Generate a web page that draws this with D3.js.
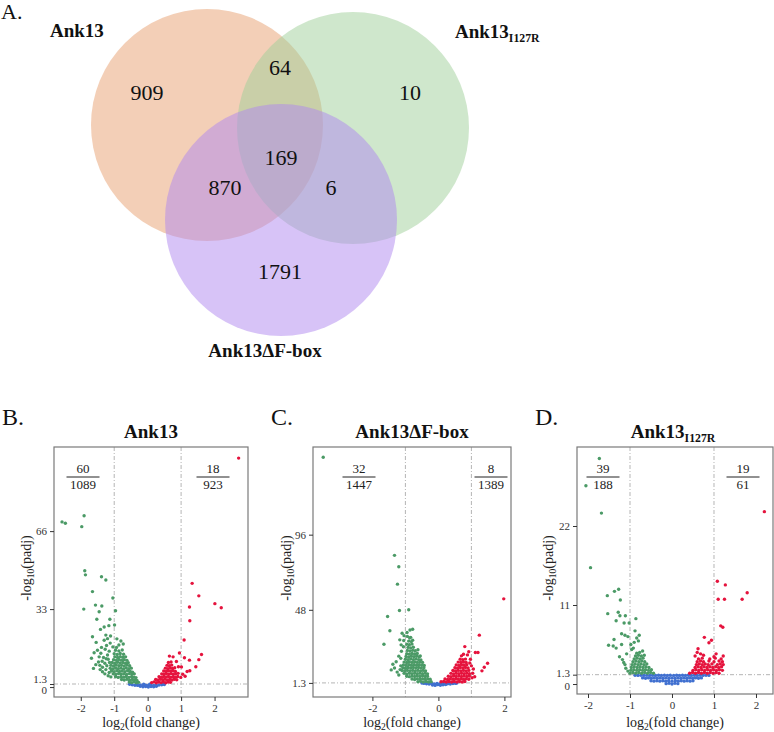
<!DOCTYPE html>
<html><head><meta charset="utf-8">
<script src="https://cdn.jsdelivr.net/npm/d3@7"></script>
<style>body{margin:0;background:#fff}svg{display:block}</style>
</head><body>
<svg id="c" width="774" height="732"></svg>
<script>
// ---------------- DATA ----------------
const vennSetNames = ["Ank13", "Ank13I127R", "Ank13\u0394F-box"];
const vennRegions = ["Ank13 only", "Ank13 & I127R", "I127R only", "all three", "Ank13 & \u0394F-box", "I127R & \u0394F-box", "\u0394F-box only"];
const vennCounts = [909, 64, 10, 169, 870, 6, 1791];

const panelTitles = ["Ank13", "Ank13\u0394F-box", "Ank13"];
const panelTitleSubs = ["", "", "I127R"];
const downCounts = [[60, 1089], [32, 1447], [39, 188]];
const upCounts = [[18, 923], [8, 1389], [19, 61]];

const ank13XTicks = [-2, -1, 0, 1, 2];
const ank13YTicks = [0, 1.3, 33, 66];
const dfboxXTicks = [-2, 0, 2];
const dfboxYTicks = [1.3, 48, 96];
const i127rXTicks = [-2, -1, 0, 1, 2];
const i127rYTicks = [0, 1.3, 11, 22];

// Ank13 volcano: [log2FC, -log10(padj)]
const ank13Down = [
[-2.56,69.9],[-2.46,69.3],[-1.90,72.5],[-1.97,67.9],[-1.88,49.2],[-1.86,47.5],[-1.38,46.7],[-1.25,45.3],[-1.65,40.4],[-1.91,33.0],
[-1.04,37.7],[-1.56,34.7],[-1.37,34.3],[-1.45,31.9],[-0.96,32.3],[-1.52,28.7],[-1.13,28.7],[-1.16,26.0],[-1.30,25.4],[-1.41,24.4],
[-0.99,26.3],[-1.65,21.3],[-1.25,22.0],[-1.11,21.6],[-1.54,18.9],[-1.23,17.6],[-1.68,12.2],[-1.47,10.6],[-1.43,9.2],[-1.35,8.4],
[-1.28,10.1],[-1.22,9.0],[-1.32,12.5],[-1.20,13.6],[-1.27,16.0],[-1.15,15.2],[-1.18,11.8],[-1.40,14.3],[-1.50,15.6],[-1.12,18.6],
[-1.08,7.2],[-1.15,6.2],[-1.25,7.4],[-0.92,20.4],[-0.80,19.5],[-0.86,17.8],[-0.73,18.2],
[-1.60,14.5],[-1.45,12.8],[-1.38,16.8],[-1.30,19.8],[-1.20,20.5],[-1.35,6.5],[-1.28,5.6],[-1.18,4.8],[-1.10,4.3],[-1.42,7.4],
[-1.55,9.5],[-1.62,7.9],[-1.36,10.9],[-1.24,12.0],[-1.14,10.4],
[-0.55,2.1],[-0.48,1.9],[-0.41,2.2],[-0.34,1.8],[-0.27,2.0],
[-0.78,3.2],[-0.70,3.0],[-0.62,3.3],[-0.54,2.9],[-0.46,3.2],[-0.39,3.0],[-0.32,2.8],
[-0.96,4.4],[-0.88,4.1],[-0.80,4.4],[-0.72,4.2],[-0.64,4.5],[-0.56,4.1],[-0.48,4.4],[-0.41,4.2],[-0.35,4.0],
[-1.03,5.6],[-0.95,5.3],[-0.87,5.7],[-0.79,5.4],[-0.71,5.6],[-0.63,5.3],[-0.55,5.7],[-0.47,5.4],[-0.40,5.6],
[-1.08,6.8],[-1.00,6.5],[-0.92,6.9],[-0.84,6.6],[-0.76,6.8],[-0.68,6.5],[-0.60,6.9],[-0.52,6.6],[-0.45,6.3],
[-1.12,8.0],[-1.04,7.7],[-0.96,8.1],[-0.88,7.8],[-0.80,8.0],[-0.72,7.7],[-0.64,8.1],[-0.56,7.8],[-0.49,8.0],
[-1.10,9.2],[-1.02,8.9],[-0.94,9.3],[-0.86,9.0],[-0.78,9.2],[-0.70,8.9],[-0.62,9.3],[-0.54,9.0],
[-1.06,10.4],[-0.98,10.1],[-0.90,10.5],[-0.82,10.2],[-0.74,10.4],[-0.66,10.1],[-0.58,10.3],
[-1.02,11.6],[-0.94,11.3],[-0.86,11.7],[-0.78,11.4],[-0.70,11.6],[-0.62,11.3],
[-0.98,12.8],[-0.90,12.5],[-0.82,12.9],[-0.74,12.6],[-0.66,12.8],
[-1.00,14.1],[-0.91,13.8],[-0.82,14.2],[-0.72,13.9],
[-0.96,15.6],[-0.86,15.3],[-0.76,15.7],[-1.04,17.0],[-0.93,16.8]
];
const ank13Up = [
[2.72,96.9],[1.33,43.9],[1.53,38.6],[2.01,35.3],[2.20,33.6],[1.25,33.9],[1.26,28.1],[1.09,19.9],[1.61,13.8],[1.53,11.6],
[1.44,8.6],[1.25,11.4],[1.10,12.4],[0.95,14.4],[0.65,13.1],[0.76,12.8],[1.01,8.5],[1.18,6.6],[1.26,6.9],[1.05,5.4],
[0.99,4.1],[1.12,4.6],[0.86,10.8],[0.92,8.6],
[0.12,1.9],[0.19,2.2],[0.26,1.8],[0.33,2.1],[0.40,1.9],[0.47,2.2],[0.54,1.8],[0.61,2.1],[0.68,2.0],
[0.24,3.2],[0.31,3.0],[0.38,3.3],[0.45,3.1],[0.52,3.3],[0.59,3.0],[0.66,3.2],[0.73,3.0],[0.80,3.3],[0.87,3.1],
[0.34,4.4],[0.41,4.2],[0.48,4.5],[0.55,4.3],[0.62,4.5],[0.69,4.2],[0.76,4.4],[0.83,4.2],[0.90,4.5],
[0.42,5.6],[0.49,5.4],[0.56,5.7],[0.63,5.5],[0.70,5.7],[0.77,5.4],[0.84,5.6],[0.91,5.8],
[0.48,6.8],[0.55,6.6],[0.62,6.9],[0.69,6.7],[0.76,6.9],[0.83,6.6],
[0.53,8.0],[0.60,7.8],[0.67,8.1],[0.74,7.9],[0.81,8.2],
[0.58,9.2],[0.65,9.0],[0.72,9.3],[0.62,10.4],[0.70,10.6]
];
const ank13NS = [
[-0.22,0.3],[-0.14,0.1],[-0.06,0.2],[0.02,0.0],[0.10,0.2],[0.18,0.1],[0.26,0.3],
[-0.46,1.0],[-0.38,0.8],[-0.30,0.7],[-0.22,0.9],[-0.14,0.7],[-0.06,0.8],[0.02,0.7],[0.10,0.9],[0.18,0.7],[0.26,0.8],[0.34,0.9],[0.42,1.0],[0.50,1.1],
[-0.54,1.2],[-0.32,1.2],[0.06,1.2],[0.46,1.25],[-0.12,1.2]
];

// Ank13ΔF-box volcano
const dfboxDown = [
[-3.49,145.5],[-1.33,82.8],[-1.20,75.5],[-1.24,64.4],[-1.18,47.6],[-0.90,48.0],[-1.54,43.7],[-1.47,34.6],[-1.65,26.0],[-1.10,33.0],
[-0.95,33.5],[-0.86,35.1],[-0.78,35.6],[-1.17,28.8],[-1.05,28.4],[-1.13,25.6],[-1.04,31.5],[-0.94,31.0],[-1.06,24.4],[-1.20,18.4],
[-1.14,17.0],[-1.38,13.2],[-1.33,10.8],[-1.25,8.2],[-1.20,6.4],[-1.43,9.6],[-1.12,21.5],[-0.84,30.4],[-0.78,28.6],[-1.28,14.8],
[-0.62,22.5],[-0.55,18.5],[-1.14,12.2],[-1.16,9.8],
[-0.62,2.0],[-0.54,2.3],[-0.46,1.9],[-0.38,2.2],[-0.30,1.9],[-0.22,2.1],
[-0.80,3.8],[-0.72,3.5],[-0.64,3.9],[-0.56,3.6],[-0.48,3.9],[-0.40,3.6],[-0.32,3.9],[-0.25,3.6],
[-0.96,5.6],[-0.88,5.3],[-0.80,5.7],[-0.72,5.4],[-0.64,5.7],[-0.56,5.4],[-0.48,5.7],[-0.40,5.4],[-0.33,5.6],
[-1.04,7.4],[-0.96,7.1],[-0.88,7.5],[-0.80,7.2],[-0.72,7.5],[-0.64,7.2],[-0.56,7.5],[-0.48,7.2],[-0.40,7.5],[-0.33,7.1],
[-1.10,9.2],[-1.02,8.9],[-0.94,9.3],[-0.86,9.0],[-0.78,9.3],[-0.70,9.0],[-0.62,9.3],[-0.54,9.0],[-0.46,9.3],[-0.39,9.0],
[-1.08,11.0],[-1.00,10.7],[-0.92,11.1],[-0.84,10.8],[-0.76,11.1],[-0.68,10.8],[-0.60,11.1],[-0.52,10.8],[-0.44,11.0],
[-1.06,12.8],[-0.98,12.5],[-0.90,12.9],[-0.82,12.6],[-0.74,12.9],[-0.66,12.6],[-0.58,12.9],[-0.50,12.6],[-0.43,12.4],
[-1.04,14.6],[-0.96,14.3],[-0.88,14.7],[-0.80,14.4],[-0.72,14.7],[-0.64,14.4],[-0.56,14.7],[-0.48,14.4],
[-1.00,16.4],[-0.92,16.1],[-0.84,16.5],[-0.76,16.2],[-0.68,16.5],[-0.60,16.2],[-0.53,16.0],
[-0.98,18.2],[-0.90,17.9],[-0.82,18.3],[-0.74,18.0],[-0.66,18.3],[-0.58,18.0],
[-0.96,20.0],[-0.88,19.7],[-0.80,20.1],[-0.72,19.8],[-0.64,20.1],
[-0.94,22.0],[-0.86,21.7],[-0.78,22.1],[-0.70,21.8],
[-0.92,24.0],[-0.84,23.7],[-0.76,24.1],[-0.96,26.0],[-0.88,25.7],[-0.80,26.1],[-0.90,28.0],[-0.82,27.7],[-0.87,30.0]
];
const dfboxUp = [
[1.98,55.0],[1.24,31.8],[0.80,24.5],[1.12,20.7],[1.20,20.7],[1.49,13.9],[1.39,11.3],[1.32,9.0],[1.04,7.5],[0.97,16.4],
[0.88,19.2],[1.00,12.2],[1.06,10.2],[0.92,21.2],[0.76,19.6],[1.10,5.2],[1.02,4.6],[0.70,18.6],[0.95,14.0],
[0.08,2.0],[0.16,2.2],[0.24,1.9],[0.32,2.2],[0.40,1.9],[0.48,2.2],[0.56,1.9],[0.64,2.2],[0.72,1.9],[0.80,2.2],
[0.20,3.8],[0.28,3.5],[0.36,3.9],[0.44,3.6],[0.52,3.9],[0.60,3.6],[0.68,3.9],[0.76,3.6],[0.84,3.9],[0.92,3.6],
[0.30,5.6],[0.38,5.3],[0.46,5.7],[0.54,5.4],[0.62,5.7],[0.70,5.4],[0.78,5.7],[0.86,5.4],[0.94,5.7],
[0.38,7.4],[0.46,7.1],[0.54,7.5],[0.62,7.2],[0.70,7.5],[0.78,7.2],[0.86,7.5],[0.94,7.2],
[0.44,9.2],[0.52,8.9],[0.60,9.3],[0.68,9.0],[0.76,9.3],[0.84,9.0],[0.92,9.3],
[0.50,11.0],[0.58,10.7],[0.66,11.1],[0.74,10.8],[0.82,11.1],[0.90,10.8],
[0.54,12.8],[0.62,12.5],[0.70,12.9],[0.78,12.6],[0.86,12.9],
[0.60,14.6],[0.68,14.3],[0.76,14.7],[0.84,14.4],[0.66,16.4],[0.74,16.1],[0.82,16.5]
];
const dfboxNS = [
[-0.18,0.0],[-0.10,-0.3],[-0.02,0.2],[0.06,-0.2],[0.14,0.1],[0.22,0.3],
[-0.44,1.0],[-0.36,0.8],[-0.28,0.6],[-0.20,0.9],[-0.12,0.7],[-0.04,0.9],[0.04,0.7],[0.12,0.9],[0.20,0.7],[0.28,0.8],[0.36,0.6],[0.44,0.9],[0.52,1.0],
[-0.50,1.2],[0.56,1.2],[-0.26,1.2],[0.32,1.2]
];

// Ank13 I127R volcano
const i127rDown = [
[-1.73,31.4],[-2.05,27.6],[-1.68,23.8],[-1.94,16.2],[-1.54,12.3],[-1.37,12.9],[-1.27,13.2],[-1.23,11.7],[-1.53,9.8],[-1.28,10.0],
[-1.24,9.5],[-1.11,9.5],[-1.33,8.8],[-1.14,8.5],[-1.02,8.5],[-0.86,9.1],[-1.51,5.4],[-1.20,7.0],[-1.12,6.8],[-1.05,6.6],
[-0.88,7.4],[-0.84,6.4],[-0.78,6.8],[-0.80,6.0],[-1.40,5.3],[-1.33,5.0],[-1.20,5.5],[-0.98,5.5],[-0.92,5.0],[-0.90,5.8],
[-1.18,3.4],[-1.15,3.0],[-1.12,2.7],[-0.96,4.8],[-0.70,4.6],[-0.66,4.0],[-1.38,6.2],[-1.08,4.2],[-1.25,3.8],[-1.05,1.8],[-1.10,2.2],
[-1.00,1.5],[-0.93,1.6],[-0.86,1.5],[-0.79,1.6],[-0.72,1.5],[-0.65,1.6],[-0.58,1.5],[-0.51,1.6],[-0.44,1.5],
[-0.98,1.9],[-0.91,2.0],[-0.84,1.9],[-0.77,2.0],[-0.70,1.9],[-0.63,2.0],[-0.56,1.9],[-0.49,2.0],
[-0.97,2.3],[-0.90,2.4],[-0.83,2.3],[-0.76,2.4],[-0.69,2.3],[-0.62,2.4],[-0.55,2.3],
[-0.95,2.7],[-0.88,2.8],[-0.81,2.7],[-0.74,2.8],[-0.67,2.7],[-0.60,2.8],
[-0.93,3.1],[-0.86,3.2],[-0.79,3.1],[-0.72,3.2],[-0.65,3.1],
[-0.90,3.5],[-0.83,3.6],[-0.76,3.5],[-0.69,3.6],[-0.87,3.9],[-0.80,4.0],[-0.73,3.9],[-0.84,4.3],[-0.77,4.4]
];
const i127rUp = [
[2.20,24.0],[1.08,14.3],[1.27,13.8],[1.10,11.8],[1.25,11.8],[1.67,11.8],[1.79,12.7],[1.16,8.1],[1.21,7.9],[0.77,6.5],
[0.94,6.1],[0.88,5.75],[0.60,4.4],[0.68,4.2],[0.55,3.9],[0.75,4.0],[1.00,3.8],[1.05,4.2],[1.22,3.9],[0.62,4.9],
[0.42,1.5],[0.49,1.6],[0.56,1.5],[0.63,1.6],[0.70,1.5],[0.77,1.6],[0.84,1.5],[0.91,1.6],[0.98,1.5],[1.05,1.6],[1.12,1.5],
[0.50,1.9],[0.57,2.0],[0.64,1.9],[0.71,2.0],[0.78,1.9],[0.85,2.0],[0.92,1.9],[0.99,2.0],[1.06,1.9],[1.13,2.0],[1.20,1.9],
[0.55,2.3],[0.62,2.4],[0.69,2.3],[0.76,2.4],[0.83,2.3],[0.90,2.4],[0.97,2.3],[1.04,2.4],[1.11,2.3],[1.18,2.4],
[0.58,2.7],[0.65,2.8],[0.72,2.7],[0.79,2.8],[0.86,2.7],[0.95,2.8],[1.08,2.7],[1.15,2.8],[1.22,2.7],
[0.60,3.1],[0.68,3.2],[0.75,3.1],[0.88,3.2],[1.00,3.1],[1.12,3.2],[1.20,3.1],
[0.63,3.5],[0.72,3.6],[0.90,3.5],[1.03,3.6],[1.17,3.5]
];
const i127rNS = [
[-0.14,0.05],[-0.07,0.1],[0.00,0.0],[0.07,0.1],[0.14,0.05],
[-0.50,0.45],[-0.43,0.4],[-0.36,0.45],[-0.29,0.4],[-0.22,0.45],[-0.15,0.4],[-0.08,0.45],[0.00,0.4],[0.08,0.45],[0.15,0.4],[0.22,0.45],[0.29,0.4],[0.36,0.45],[0.43,0.4],[0.50,0.45],
[-0.70,0.85],[-0.63,0.8],[-0.56,0.85],[-0.49,0.8],[-0.42,0.85],[-0.35,0.8],[-0.28,0.85],[-0.21,0.8],[-0.14,0.85],[-0.07,0.8],[0.00,0.85],
[0.07,0.8],[0.14,0.85],[0.21,0.8],[0.28,0.85],[0.35,0.8],[0.42,0.85],[0.49,0.8],[0.56,0.85],[0.63,0.8],[0.70,0.85],
[-0.88,1.22],[-0.81,1.2],[-0.74,1.22],[-0.67,1.2],[-0.60,1.22],[-0.53,1.2],[-0.46,1.22],[-0.39,1.2],[-0.32,1.22],[-0.25,1.2],[-0.18,1.22],[-0.11,1.2],[-0.04,1.22],
[0.04,1.2],[0.11,1.22],[0.18,1.2],[0.25,1.22],[0.32,1.2],[0.39,1.22],[0.46,1.2],[0.53,1.22],[0.60,1.2],[0.67,1.22],[0.74,1.2],[0.81,1.22],[0.88,1.2]
];

// ---------------- DRAWING ----------------
const svg = d3.select("#c");
const colDown = "#4b9a66", colUp = "#e5133d", colNS = "#4070d0";
function T(sel) { return sel.attr("font-family", "Liberation Serif"); }

// Panel A: Venn
const vennCircles = [
  {cx: 207, cy: 125, r: 116, fill: "#e8a070"},
  {cx: 353, cy: 128, r: 116, fill: "#a0d09a"},
  {cx: 281, cy: 220, r: 116, fill: "#b088f0"}
];
svg.append("g").selectAll("circle").data(vennCircles).join("circle")
  .attr("cx", d => d.cx).attr("cy", d => d.cy).attr("r", d => d.r)
  .attr("fill", d => d.fill).attr("fill-opacity", 0.5);

const vennLabelPos = [[147,100],[280,75],[410,100],[281,165],[225,195],[331,195],[280,279]];
T(svg.append("g").selectAll("text").data(vennCounts).join("text"))
  .attr("x", (d, i) => vennLabelPos[i][0]).attr("y", (d, i) => vennLabelPos[i][1])
  .attr("text-anchor", "middle").attr("font-size", 22)
  .attr("fill", "#111").text(d => d);

function subText(sel, main, sub, size) {
  sel.append("tspan").text(main);
  if (sub) sel.append("tspan").attr("font-size", size * 0.62).attr("dy", size * 0.22).text(sub);
}
const setLabelPos = [[50, 37, "start"], [455, 38, "start"], [265, 357, "middle"]];
[["Ank13", ""], ["Ank13", "I127R"], ["Ank13\u0394F-box", ""]].forEach((t, i) => {
  const tx = T(svg.append("text")).attr("x", setLabelPos[i][0]).attr("y", setLabelPos[i][1])
    .attr("text-anchor", setLabelPos[i][2])
    .attr("font-weight", "bold").attr("font-size", 19).attr("fill", "#111");
  subText(tx, t[0], t[1], 19);
});
T(svg.append("text")).attr("x", 1).attr("y", 19).attr("font-size", 22).attr("fill", "#111").text("A.");

// Volcano panels
function volcano(p, k) {
  const [L, Tp, R, B] = p.box;
  const x = d3.scaleLinear().domain(p.xDomain).range([L, R]);
  const y = d3.scaleLinear().domain(p.yDomain).range([B, Tp]);
  const g = svg.append("g");
  const cid = "clip" + k;
  svg.append("clipPath").attr("id", cid).append("rect").attr("x", L).attr("y", Tp).attr("width", R - L).attr("height", B - Tp);

  const dash = "4,2,1,2";
  g.append("line").attr("x1", L).attr("x2", R).attr("y1", y(1.3)).attr("y2", y(1.3))
    .attr("stroke", "#b5b5b5").attr("stroke-dasharray", dash);
  [-1, 1].forEach(v => g.append("line").attr("x1", x(v)).attr("x2", x(v)).attr("y1", Tp).attr("y2", B)
    .attr("stroke", "#b5b5b5").attr("stroke-dasharray", dash));

  const pts = g.append("g").attr("clip-path", `url(#${cid})`);
  [[p.ns, colNS], [p.down, colDown], [p.up, colUp]].forEach(([arr, c]) => {
    pts.append("g").selectAll("circle").data(arr).join("circle")
      .attr("cx", d => x(d[0])).attr("cy", d => y(d[1])).attr("r", 1.7).attr("fill", c);
  });

  g.append("rect").attr("x", L).attr("y", Tp).attr("width", R - L).attr("height", B - Tp)
    .attr("fill", "none").attr("stroke", "#7a7a7a").attr("stroke-width", 1.2);

  const ax = g.append("g").attr("transform", `translate(0,${B})`)
    .call(d3.axisBottom(x).tickValues(p.xTicks).tickSize(4).tickSizeOuter(0).tickFormat(d => String(d)));
  const ay = g.append("g").attr("transform", `translate(${L},0)`)
    .call(d3.axisLeft(y).tickValues(p.yTicks).tickSize(4).tickSizeOuter(0).tickFormat(d => String(d)));
  [ax, ay].forEach(a => {
    T(a).attr("font-size", 11);
    a.select(".domain").remove();
    a.selectAll("line").attr("stroke", "#333");
    T(a.selectAll("text")).attr("font-size", 11).attr("fill", "#333");
  });
  if (p.yLabelShift) ay.selectAll(".tick text").attr("transform", d => `translate(0,${p.yLabelShift[d] || 0})`);

  const midX = (L + R) / 2;
  const xt = T(g.append("text")).attr("x", midX).attr("y", 727).attr("text-anchor", "middle")
    .attr("font-size", 14).attr("fill", "#222");
  xt.append("tspan").text("log");
  xt.append("tspan").attr("font-size", 9.5).attr("dy", 3).text("2");
  xt.append("tspan").attr("dy", -3).text("(fold change)");

  const yt = T(g.append("text")).attr("transform", `translate(${p.yTitleX},568) rotate(-90)`).attr("text-anchor", "middle")
    .attr("font-size", 14).attr("fill", "#222");
  yt.append("tspan").text("-log");
  yt.append("tspan").attr("font-size", 9.5).attr("dy", 3).text("10");
  yt.append("tspan").attr("dy", -3).text("(padj)");

  const tt = T(g.append("text")).attr("x", p.titleX).attr("y", 438).attr("text-anchor", "middle")
    .attr("font-weight", "bold").attr("font-size", 19).attr("fill", "#111");
  subText(tt, p.title, p.titleSub, 19);

  T(g.append("text")).attr("x", p.letterX).attr("y", 425).attr("font-size", 24)
    .attr("fill", "#111").text(p.letter);

  [[p.fracDown, p.fracX[0]], [p.fracUp, p.fracX[1]]].forEach(([f, cx]) => {
    T(g.append("text")).attr("x", cx).attr("y", 473).attr("text-anchor", "middle")
      .attr("font-size", 13).attr("fill", "#222").text(f[0]);
    g.append("line").attr("x1", cx - 16.5).attr("x2", cx + 16.5).attr("y1", 477).attr("y2", 477)
      .attr("stroke", "#222").attr("stroke-width", 1);
    T(g.append("text")).attr("x", cx).attr("y", 489).attr("text-anchor", "middle")
      .attr("font-size", 13).attr("fill", "#222").text(f[1]);
  });
}

const panels = [
  {box: [54, 447, 248, 697], xDomain: [-2.8, 3.0], yDomain: [-4.2, 101.6], xTicks: ank13XTicks, yTicks: ank13YTicks,
   down: ank13Down, up: ank13Up, ns: ank13NS, yTitleX: 31, titleX: 151, letter: "B.", letterX: 2,
   fracX: [83, 213], yLabelShift: {1.3: -5, 0: 3}},
  {box: [313, 447, 511, 697], xDomain: [-3.8, 2.2], yDomain: [-7.7, 152], xTicks: dfboxXTicks, yTicks: dfboxYTicks,
   down: dfboxDown, up: dfboxUp, ns: dfboxNS, yTitleX: 291, titleX: 412, letter: "C.", letterX: 271,
   fracX: [359, 491]},
  {box: [577, 447, 773, 694], xDomain: [-2.262, 2.405], yDomain: [-1.39, 33], xTicks: i127rXTicks, yTicks: i127rYTicks,
   down: i127rDown, up: i127rUp, ns: i127rNS, yTitleX: 553, titleX: 673, letter: "D.", letterX: 535,
   fracX: [603, 743], yLabelShift: {1.3: -1.5, 0: 1.5}}
];
panels.forEach((p, k) => {
  p.title = panelTitles[k]; p.titleSub = panelTitleSubs[k];
  p.fracDown = downCounts[k]; p.fracUp = upCounts[k];
  volcano(p, k);
});
</script>
</body></html>
